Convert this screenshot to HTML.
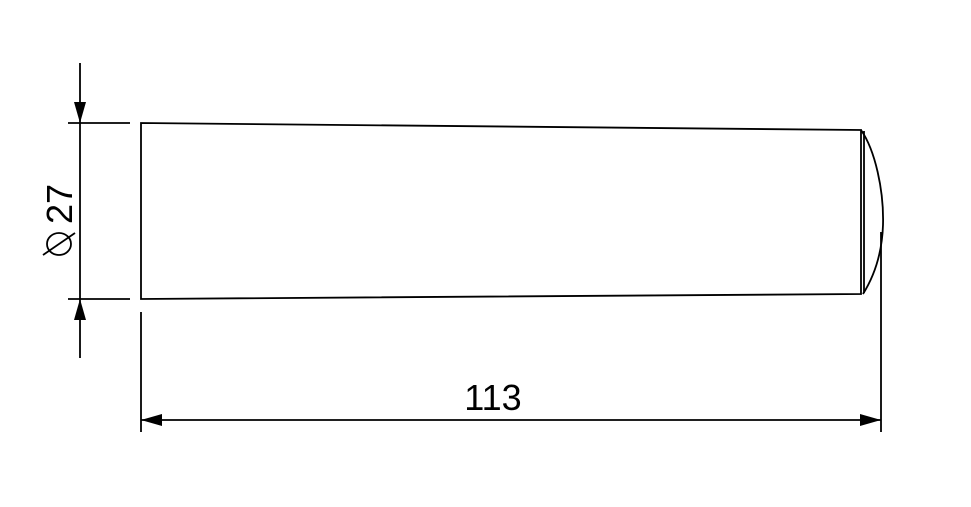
<!DOCTYPE html>
<html><head><style>html,body{margin:0;padding:0;background:#fff;}</style></head>
<body>
<svg width="971" height="502" viewBox="0 0 971 502" xmlns="http://www.w3.org/2000/svg">
<g stroke="#000" fill="none" stroke-width="1.8">
<path d="M141 123 L861 130 L861 294 L141 299 Z"/>
<line x1="864" y1="131" x2="864" y2="293"/>
<path d="M861 130 C875 150 884 190 883 225 C882 255 873 278 863 294"/>
<line x1="881" y1="232" x2="881" y2="432"/>
<line x1="141" y1="312" x2="141" y2="432"/>
<line x1="141" y1="420" x2="881" y2="420"/>
<line x1="80" y1="63" x2="80" y2="358"/>
<line x1="68" y1="123" x2="130" y2="123"/>
<line x1="68" y1="299" x2="130" y2="299"/>
<ellipse cx="59" cy="244" rx="12" ry="11"/>
<line x1="43" y1="255" x2="75" y2="233"/>
</g>
<g fill="#000">
<polygon points="141,420 162,414 162,426"/>
<polygon points="881,420 860,414 860,426"/>
<polygon points="80,123 74,102 86,102"/>
<polygon points="80,299 74,320 86,320"/>
</g>
<text x="493" y="410" font-family="Liberation Sans, sans-serif" font-size="36" text-anchor="middle">113</text>
<text transform="translate(72,204) rotate(-90)" font-family="Liberation Sans, sans-serif" font-size="36" text-anchor="middle">27</text>
</svg>
</body></html>
